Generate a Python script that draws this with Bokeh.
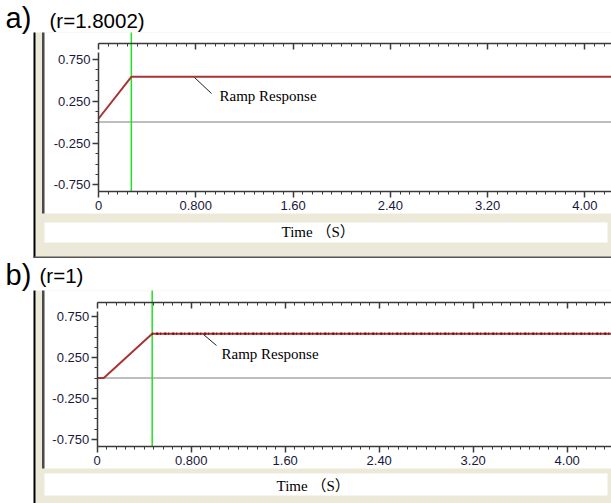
from bokeh.plotting import figure
from bokeh.models import Range1d, LinearAxis, FixedTicker, BoxAnnotation, Label, Arrow
from bokeh.layouts import column
from bokeh.embed import file_html
from bokeh.resources import INLINE

# ---------------- data ----------------
x_ticks = [0.0, 0.8, 1.6, 2.4, 3.2, 4.0]
x_tick_labels = ["0", "0.800", "1.60", "2.40", "3.20", "4.00"]
y_ticks = [0.75, 0.25, -0.25, -0.75]
y_tick_labels = ["0.750", "0.250", "-0.250", "-0.750"]

a_time = [0.0, 0.27, 5.0]
a_resp = [0.04, 0.54, 0.54]
a_marker = 0.27

b_time = [0.0, 0.056, 0.468, 5.0]
b_resp = [0.0, 0.0, 0.54, 0.54]
b_marker = 0.468

zero_time = [0.0, 5.0]
zero_val = [0.0, 0.0]

series_name = "Ramp Response"
x_title = "Time （S）"

# ---------------- styling ----------------
W = 611
BEIGE = "#ece9d8"
AXIS = "#3a3a3a"
LABEL_COLOR = "#18183c"
RED = "#a83434"
GREEN = "#22e022"

x_minor = [i * 0.08 for i in range(0, 60)]
y_minor = [i * 0.125 for i in range(-6, 7)]


def panel(H, x0, kx, y0, ky, top_px, bot_px, ytop_px, plot_bot, tbox_top, tbox_bot,
          letter, rtext, t, r, marker, noisy, leader, lbl_xy, time_xy):
    xr = Range1d(-x0 / kx, (W - x0) / kx)
    yr = Range1d((y0 - H) / ky, y0 / ky)
    p = figure(width=W, height=H, x_range=xr, y_range=yr, x_axis_type=None, y_axis_type=None,
               toolbar_location=None, output_backend="svg", min_border=0, title=None,
               outline_line_color=None, background_fill_color="white", border_fill_color="white")

    def v(px):
        return (y0 - px) / ky

    def sy(px):
        return H - px

    def box(l, rr, tt, bb, color):
        p.add_layout(BoxAnnotation(left=l, right=rr, top=sy(tt), bottom=sy(bb),
                                   left_units="screen", right_units="screen",
                                   top_units="screen", bottom_units="screen",
                                   fill_color=color, fill_alpha=1, line_color=None,
                                   level="underlay"))

    # window frame decorations
    box(35, W, 32, H, BEIGE)
    box(44, W, 32, plot_bot, "white")
    box(44, 607, tbox_top, tbox_bot, "white")
    box(33, 35, 32, H, "#000000")
    box(41.5, 44, 32, plot_bot, "#4a4a4a")
    if H > 250:
        box(33, W, H - 2, H, "#555555")

    # reference zero line
    p.line(zero_time, zero_val, line_color="#a8a8a8", line_width=1.5)
    # green marker line
    p.segment(x0=[marker], y0=[v(bot_px)], x1=[marker], y1=[v(32)], line_color=GREEN, line_width=1.5)
    # response
    p.line(t, r, line_color=RED, line_width=2)
    if noisy:
        p.line(t[2:], r[2:], line_color="#7a1212", line_width=2.5, line_dash="1 3 2 2")

    # axes
    common = dict(axis_line_color=AXIS, axis_line_width=1.5, major_tick_line_color=AXIS,
                  minor_tick_line_color=AXIS, major_tick_line_width=1.5,
                  major_label_text_font="Liberation Sans", major_label_text_font_size="13px",
                  major_label_text_color=LABEL_COLOR)
    bx = LinearAxis(fixed_location=v(bot_px), bounds=(0, xr.end),
                    ticker=FixedTicker(ticks=x_ticks, minor_ticks=x_minor),
                    major_label_overrides=dict(zip(x_ticks, x_tick_labels)),
                    major_tick_out=6, major_tick_in=0, minor_tick_out=3, minor_tick_in=0,
                    major_label_standoff=3, **common)
    p.add_layout(bx, "below")
    tx = LinearAxis(fixed_location=v(top_px), bounds=(0, xr.end),
                    ticker=FixedTicker(ticks=x_ticks, minor_ticks=x_minor),
                    major_label_overrides={k: "" for k in x_ticks},
                    major_tick_out=0, major_tick_in=6, minor_tick_out=0, minor_tick_in=3,
                    **common)
    p.add_layout(tx, "above")
    ly = LinearAxis(fixed_location=0, bounds=(v(bot_px), v(ytop_px)),
                    ticker=FixedTicker(ticks=y_ticks, minor_ticks=y_minor),
                    major_label_overrides=dict(zip(y_ticks, y_tick_labels)),
                    major_tick_out=6, major_tick_in=0, minor_tick_out=3, minor_tick_in=0,
                    major_label_standoff=2, **common)
    p.add_layout(ly, "left")

    # texts
    p.add_layout(Label(x=5, y=sy(letter[1]), x_units="screen", y_units="screen", text=letter[0],
                       text_font="Liberation Sans", text_font_size="29px", text_color="black",
                       text_baseline="middle"))
    p.add_layout(Label(x=rtext[1], y=sy(rtext[2]), x_units="screen", y_units="screen", text=rtext[0],
                       text_font="Liberation Sans", text_font_size="20.5px", text_color="black",
                       text_baseline="middle"))
    p.add_layout(Arrow(end=None, x_start=leader[0], y_start=sy(leader[1]), x_end=leader[2],
                       y_end=sy(leader[3]), start_units="screen", end_units="screen",
                       line_color="#202020", line_width=1))
    p.add_layout(Label(x=lbl_xy[0], y=sy(lbl_xy[1]), x_units="screen", y_units="screen",
                       text=series_name, text_font="Liberation Serif", text_font_size="15px",
                       text_color="black", text_baseline="middle"))
    p.add_layout(Label(x=time_xy[0], y=sy(time_xy[1]), x_units="screen", y_units="screen",
                       text=x_title, text_font="Liberation Serif, Noto Sans CJK SC",
                       text_font_size="15px", text_color="black", text_baseline="middle"))
    return p


pa = panel(258, 98, 121.6, 121.6, 83.84, 43, 191, 52, 213, 222, 242,
           ("a)", 17), ("(r=1.8002)", 49, 20), a_time, a_resp, a_marker, False,
           (194, 77, 211, 93), (219, 95), (281, 231))
pb = panel(245, 96.7, 117.5, 119.5, 81.9, 43.7, 188, 53, 210, 215, 237,
           ("b)", 16), ("(r=1)", 39, 17), b_time, b_resp, b_marker, True,
           (203, 76, 216, 87), (221, 95), (276, 227))

layout = column(pa, pb, spacing=0)
open("out.html", "w").write(file_html(layout, INLINE))
